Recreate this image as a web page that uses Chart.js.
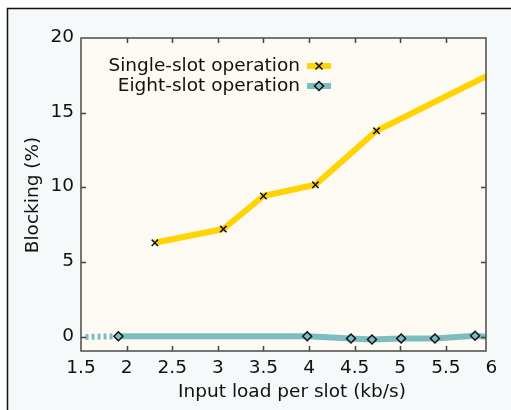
<!DOCTYPE html>
<html>
<head>
<meta charset="utf-8">
<title>Blocking vs input load</title>
<script src="https://cdn.jsdelivr.net/npm/chart.js@4.4.1/dist/chart.umd.min.js"></script>
<style>
  html, body { margin: 0; padding: 0; background: #fff; }
  canvas { display: block; }
</style>
</head>
<body>
<canvas id="blockChart" width="511" height="410"></canvas>
<script>
// ---- data ----
var seriesNames = ['Single-slot operation', 'Eight-slot operation'];

// single-slot: last point sits past the right edge, only the line reaches it
var singleX = [2.31, 3.06, 3.50, 4.07, 4.74, 6.00];
var singleY = [6.30, 7.22, 9.43, 10.18, 13.79, 17.62];

// eight-slot: first point starts the dotted lead-in, last one is past the edge
var eightX = [1.55, 1.91, 3.98, 4.46, 4.69, 5.01, 5.38, 5.82, 6.00];
var eightY = [0.00, 0.05, 0.05, -0.10, -0.17, -0.10, -0.10, 0.08, -0.02];

var xTicks = [1.5, 2, 2.5, 3, 3.5, 4, 4.5, 5, 5.5, 6];
var yTicks = [0, 5, 10, 15, 20];

var xTitle = 'Input load per slot (kb/s)';
var yTitle = 'Blocking (%)';

// ---- colours / font ----
var yellow = '#ffd400';
var teal = '#7cbdc1';
var FONT = '"DejaVu Sans", sans-serif';
var FSIZE = 18.5;

function toPoints(xs, ys) {
  var pts = [];
  for (var i = 0; i < xs.length; i++) pts.push({ x: xs[i], y: ys[i] });
  return pts;
}

function markerRadii(n, first, last) {
  var r = [];
  for (var i = 0; i < n; i++) r.push(i < first || i > n - 1 - last ? 0 : 4.5);
  return r;
}

// draws one marker by hand (for the legend)
function drawMarker(ctx, style, x, y, fill) {
  ctx.save();
  ctx.strokeStyle = '#111';
  ctx.lineWidth = 1.5;
  if (style === 'crossRot') {
    var s = 3.5;
    ctx.beginPath();
    ctx.moveTo(x - s, y - s); ctx.lineTo(x + s, y + s);
    ctx.moveTo(x - s, y + s); ctx.lineTo(x + s, y - s);
    ctx.stroke();
  } else {
    var r = 4.5;
    ctx.beginPath();
    ctx.moveTo(x, y - r); ctx.lineTo(x + r, y); ctx.lineTo(x, y + r); ctx.lineTo(x - r, y);
    ctx.closePath();
    ctx.fillStyle = fill;
    ctx.fill();
    ctx.stroke();
  }
  ctx.restore();
}

// ---- background, frame, ticks, legend, titles ----
var framePlugin = {
  id: 'frame',
  beforeDraw: function(chart) {
    var ctx = chart.ctx, a = chart.chartArea;
    ctx.save();
    ctx.fillStyle = '#ffffff';
    ctx.fillRect(0, 0, chart.width, chart.height);
    ctx.fillStyle = '#f5f9fa';
    ctx.fillRect(7, 8, chart.width - 7, chart.height - 8);
    ctx.strokeStyle = '#111';
    ctx.lineWidth = 1.5;
    ctx.beginPath();
    ctx.moveTo(7.5, chart.height); ctx.lineTo(7.5, 8.5); ctx.lineTo(chart.width, 8.5);
    ctx.stroke();
    ctx.fillStyle = '#fdf9f3';
    ctx.fillRect(a.left, a.top, a.right - a.left, a.bottom - a.top);
    ctx.restore();
  },
  afterDraw: function(chart) {
    var ctx = chart.ctx, a = chart.chartArea;
    var xs = chart.scales.x, ys = chart.scales.y;
    ctx.save();
    // inward ticks on all four sides
    ctx.strokeStyle = '#444';
    ctx.lineWidth = 1.5;
    ctx.beginPath();
    for (var i = 0; i < xTicks.length; i++) {
      var px = Math.round(xs.getPixelForValue(xTicks[i])) + 0.5;
      if (px <= a.left + 2 || px >= a.right - 2) continue;
      ctx.moveTo(px, a.bottom); ctx.lineTo(px, a.bottom - 5);
      ctx.moveTo(px, a.top); ctx.lineTo(px, a.top + 5);
    }
    for (var j = 0; j < yTicks.length; j++) {
      var py = Math.round(ys.getPixelForValue(yTicks[j])) + 0.5;
      if (py <= a.top + 2 || py >= a.bottom - 2) continue;
      ctx.moveTo(a.left, py); ctx.lineTo(a.left + 5, py);
      ctx.moveTo(a.right, py); ctx.lineTo(a.right - 5, py);
    }
    ctx.stroke();
    // plot border
    ctx.strokeStyle = '#4a4a4a';
    ctx.lineWidth = 1.5;
    ctx.strokeRect(a.left, a.top, a.right - a.left, a.bottom - a.top);

    // legend, text right aligned with the sample line after it
    ctx.font = FSIZE + 'px ' + FONT;
    ctx.textAlign = 'right';
    ctx.textBaseline = 'middle';
    var rows = [66, 86];
    chart.data.datasets.forEach(function(ds, k) {
      ctx.fillStyle = '#111';
      ctx.fillText(ds.label, 300, rows[k]);
      ctx.strokeStyle = ds.borderColor;
      ctx.lineWidth = 6;
      ctx.beginPath();
      ctx.moveTo(307, rows[k]); ctx.lineTo(331, rows[k]);
      ctx.stroke();
      drawMarker(ctx, ds.pointStyle, 319, rows[k], ds.pointBackgroundColor);
    });

    // axis titles
    ctx.fillStyle = '#111';
    ctx.textAlign = 'center';
    ctx.fillText(xTitle, 292, 392);
    ctx.translate(33, 195);
    ctx.rotate(-Math.PI / 2);
    ctx.fillText(yTitle, 0, 0);
    ctx.restore();
  }
};

var ctx = document.getElementById('blockChart').getContext('2d');
var chart = new Chart(ctx, {
  type: 'line',
  data: {
    datasets: [{
      label: seriesNames[0],
      data: toPoints(singleX, singleY),
      borderColor: yellow,
      borderWidth: 6,
      borderJoinStyle: 'round',
      pointStyle: 'crossRot',
      pointRadius: markerRadii(singleX.length, 0, 1),
      pointBorderColor: '#111',
      pointBackgroundColor: '#111',
      pointBorderWidth: 1.5,
      clip: 0
    }, {
      label: seriesNames[1],
      data: toPoints(eightX, eightY),
      borderColor: teal,
      borderWidth: 6,
      borderJoinStyle: 'round',
      pointStyle: 'rectRot',
      pointRadius: markerRadii(eightX.length, 1, 1),
      pointBorderColor: '#111',
      pointBackgroundColor: teal,
      pointBorderWidth: 1.5,
      segment: {
        borderDash: function(c) { return c.p0DataIndex === 0 ? [3, 3] : undefined; }
      },
      clip: 0
    }]
  },
  options: {
    responsive: false,
    devicePixelRatio: 1,
    animation: false,
    layout: { padding: { left: 0, right: 25, top: 38, bottom: 0 } },
    plugins: {
      legend: { display: false },
      tooltip: { enabled: false }
    },
    scales: {
      x: {
        type: 'linear',
        min: 1.5,
        max: 5.94,
        grid: { display: false, drawTicks: false },
        border: { display: false },
        afterBuildTicks: function(s) { s.ticks = xTicks.map(function(v) { return { value: v }; }); },
        afterFit: function(s) { s.height = 59; },
        ticks: {
          autoSkip: false,
          maxRotation: 0,
          padding: 6,
          color: '#111',
          font: { family: FONT, size: FSIZE },
          callback: function(v) { return String(v); }
        }
      },
      y: {
        min: -0.94,
        max: 20,
        grid: { display: false, drawTicks: false },
        border: { display: false },
        afterBuildTicks: function(s) { s.ticks = yTicks.map(function(v) { return { value: v }; }); },
        afterFit: function(s) { s.width = 81; },
        ticks: {
          padding: 7,
          labelOffset: -1,
          color: '#111',
          font: { family: FONT, size: FSIZE },
          callback: function(v) { return String(v); }
        }
      }
    }
  },
  plugins: [framePlugin]
});
</script>
</body>
</html>
